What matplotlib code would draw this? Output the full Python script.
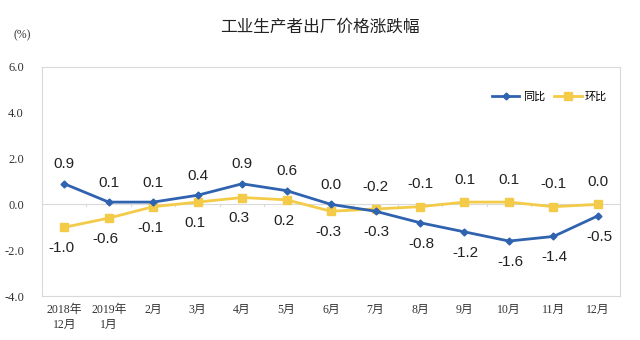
import matplotlib
matplotlib.use("Agg")
import matplotlib.pyplot as plt

categories = ["2018年\n12月", "2019年\n1月", "2月", "3月", "4月", "5月", "6月",
              "7月", "8月", "9月", "10月", "11月", "12月"]
yoy = [0.9, 0.1, 0.1, 0.4, 0.9, 0.6, 0.0, -0.3, -0.8, -1.2, -1.6, -1.4, -0.5]
mom = [-1.0, -0.6, -0.1, 0.1, 0.3, 0.2, -0.3, -0.2, -0.1, 0.1, 0.1, -0.1, 0.0]
yticks = [-4.0, -2.0, 0.0, 2.0, 4.0, 6.0]

blue = "#2F63B0"
yellow = "#F3CB48"
cjk = ["Noto Sans CJK SC", "DejaVu Sans"]
serif_cjk = ["Liberation Serif", "Noto Sans CJK SC"]

fig = plt.figure(figsize=(6.4, 3.4), dpi=100)
ax = fig.add_axes([0.0656, 0.1294, 0.9034, 0.6736])
x = list(range(len(categories)))

ax.axhline(0, color="#d9d9d9", lw=0.8, zorder=1)
for xi in x[:-1]:
    ax.plot([xi + 0.5, xi + 0.5], [0, -0.08], color="#d9d9d9", lw=0.8, zorder=1)

ax.plot(x, yoy, color=blue, lw=2, marker="D", ms=3.5, label="同比", zorder=3)
ax.plot(x, mom, color=yellow, lw=2, marker="s", ms=6, label="环比", zorder=2)

lab = dict(ha="center", va="center", fontsize=11, family="Liberation Sans", color="#222",
           textcoords="offset points")
for i in x:
    yb = yoy[i]
    ym = mom[i]
    if i <= 6:
        ax.annotate(f"{yb:.1f}", (i, yb), xytext=(0, 14), **lab)
        ax.annotate(f"{ym:.1f}", (i, ym), xytext=(-2, -15), **lab)
    else:
        ax.annotate(f"{yb:.1f}", (i, yb), xytext=(1, -15), **lab)
        ax.annotate(f"{ym:.1f}", (i, ym), xytext=(0, 16), **lab)

ax.set_xlim(-0.5, len(categories) - 0.5)
ax.set_ylim(-4.0, 6.0)
ax.set_yticks(yticks)
ax.set_yticklabels([f"{v:.1f}" for v in yticks], family="Liberation Serif", fontsize=9, color="#333")
ax.set_xticks(x)
ax.set_xticklabels(categories, family=serif_cjk, fontsize=8.5, color="#333", linespacing=1.3)
ax.tick_params(axis="both", length=0, pad=6)
ax.tick_params(axis="y", pad=13)
for s in ax.spines.values():
    s.set_color("#d9d9d9")
    s.set_linewidth(0.8)

leg = ax.legend(loc="center right", bbox_to_anchor=(0.995, 0.87), ncol=2, frameon=False,
                prop={"family": cjk, "size": 8}, handlelength=2.5, columnspacing=0.8,
                handletextpad=0.3)

fig.text(0.5, 0.92, "工业生产者出厂价格涨跌幅", ha="center", va="center",
         family=cjk, fontsize=12, fontweight="medium", color="#222")
fig.text(0.034, 0.895, "(%)", ha="center", va="center", family="Liberation Serif",
         fontsize=8.5, color="#333")

fig.savefig("out.png", dpi=100)
